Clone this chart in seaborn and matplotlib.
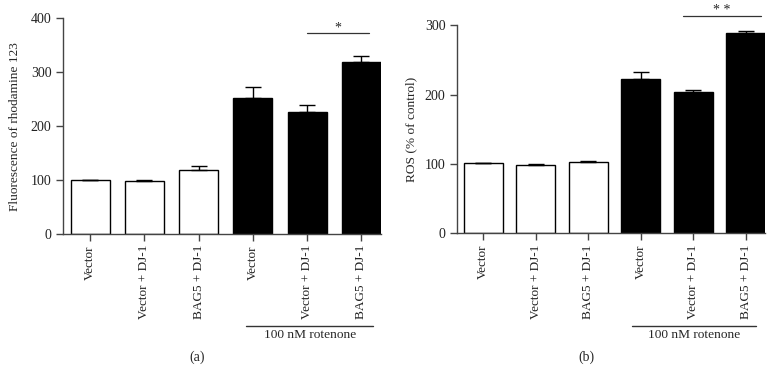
import matplotlib
matplotlib.use("Agg")
import matplotlib.pyplot as plt
import matplotlib.transforms as mtransforms
import numpy as np
import pandas as pd
import seaborn as sns

# Data
groups = ["Vector", "Vector + DJ-1", "BAG5 + DJ-1",
          "Vector ", "Vector + DJ-1 ", "BAG5 + DJ-1 "]
tick_labels = ["Vector", "Vector + DJ-1", "BAG5 + DJ-1",
               "Vector", "Vector + DJ-1", "BAG5 + DJ-1"]
rho_mean = [101, 98, 119, 253, 227, 319]
rho_err = [0, 2, 8, 19, 12, 11]
ros_mean = [101.5, 98.5, 102.5, 222, 204, 288.5]
ros_err = [0, 1.5, 1.5, 11, 2, 4]
bar_colors = ["white", "white", "white", "black", "black", "black"]

sns.set_style("ticks")
plt.rcParams["font.family"] = ["Liberation Serif", "DejaVu Serif"]
plt.rcParams["font.size"] = 9.3

W, H = 779, 383
fig = plt.figure(figsize=(W / 100, H / 100), dpi=100)


def draw_panel(ax, means, errs, ylabel, ymax, width, sig_x, sig_y, star, star_y,
               rot_x, rot_line_y, rot_text_y):
    df = pd.DataFrame({"group": groups, "value": means})
    sns.barplot(data=df, x="group", y="value", hue="group", palette=bar_colors,
                edgecolor="black", linewidth=1.0, width=width, legend=False,
                errorbar=None, ax=ax)
    x = np.arange(len(means))
    ax.errorbar(x, means, yerr=[np.zeros(len(errs)), errs], fmt="none",
                ecolor="black", elinewidth=1.0, capsize=5.5, capthick=1.0)
    ax.set_xlim(-0.505, len(means) - 1 + width / 2)
    ax.set_ylim(0, ymax)
    ax.set_yticks(np.arange(0, ymax + 1, 100))
    ax.set_xticks(x)
    ax.set_xticklabels(tick_labels, rotation=90, va="top", fontsize=9.5)
    ax.set_xlabel("")
    ax.set_ylabel(ylabel, fontsize=9.6)
    for s in ["top", "right"]:
        ax.spines[s].set_visible(False)
    for s in ["left", "bottom"]:
        ax.spines[s].set_color("#444444")
        ax.spines[s].set_linewidth(1.0)
    ax.tick_params(axis="both", colors="#444444", labelcolor="#222222",
                   length=5, width=1.0, pad=3)
    ax.tick_params(axis="y", labelsize=10)

    # significance bar
    ax.plot(sig_x, [sig_y, sig_y], color="#333333", lw=0.9, clip_on=False)
    ax.text(np.mean(sig_x), star_y, star, ha="center", va="center", fontsize=10)

    # treatment bracket below tick labels
    trans = mtransforms.blended_transform_factory(ax.transData, ax.transAxes)
    ax.plot(rot_x, [rot_line_y, rot_line_y], color="#333333", lw=1.0,
            transform=trans, clip_on=False)
    ax.text(np.mean(rot_x), rot_text_y, "100 nM rotenone", ha="center",
            va="center", transform=trans, fontsize=9.6)


ax1 = fig.add_axes([62.7 / W, (H - 234) / H, (381 - 62.7) / W, (234 - 18.3) / H])
draw_panel(ax1, rho_mean, rho_err, "Fluorescence of rhodamine 123", 400, 0.72,
           [4.0, 5.13], 372, "*", 382,
           [2.87, 5.22], -0.425, -0.47)
ax1.yaxis.set_label_coords(-0.13, 0.5)

ax2 = fig.add_axes([456.7 / W, (H - 233.3) / H, (765 - 456.7) / W, (233.3 - 25.3) / H])
draw_panel(ax2, ros_mean, ros_err, "ROS (% of control)", 300, 0.74,
           [3.81, 5.29], 313, "* *", 321,
           [2.84, 5.19], -0.446, -0.49)
ax2.yaxis.set_label_coords(-0.127, 0.5)

fig.text(197 / W, 1 - 357 / H, "(a)", ha="center", va="center", fontsize=10)
fig.text(586 / W, 1 - 357 / H, "(b)", ha="center", va="center", fontsize=10)

fig.savefig("out.png", dpi=100)
